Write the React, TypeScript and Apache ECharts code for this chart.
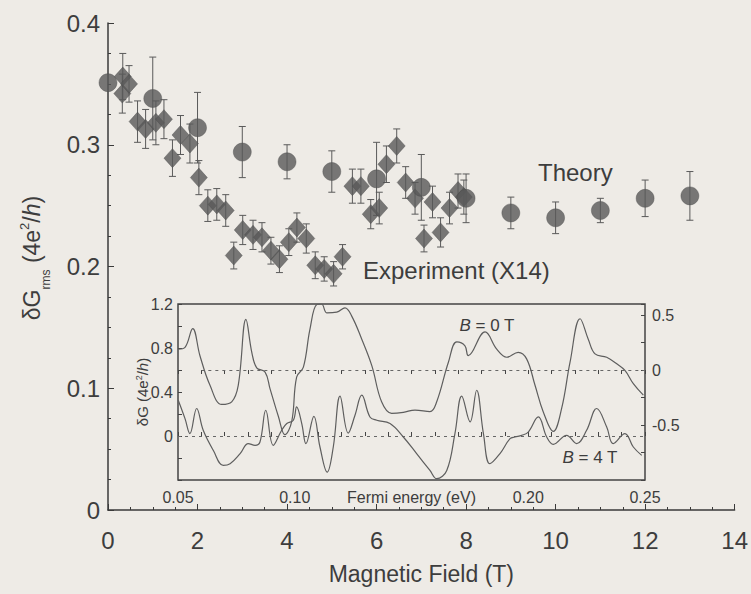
import React, { useEffect, useRef } from 'react';
import * as echarts from 'echarts';

// Main plot: experiment (diamonds)
const expB = [0.32, 0.33, 0.47, 0.66, 0.84, 1.07, 1.25, 1.44, 1.62, 1.83, 2.03, 2.23, 2.43, 2.63, 2.81, 3.01, 3.24, 3.44, 3.64, 3.83, 4.04, 4.22, 4.43, 4.63, 4.83, 5.04, 5.24, 5.46, 5.65, 5.87, 6.06, 6.22, 6.45, 6.65, 6.86, 7.06, 7.25, 7.43, 7.63, 7.82, 7.95];
const expG = [0.342, 0.356, 0.350, 0.319, 0.313, 0.318, 0.321, 0.289, 0.308, 0.301, 0.273, 0.250, 0.251, 0.246, 0.209, 0.230, 0.226, 0.224, 0.213, 0.206, 0.220, 0.232, 0.223, 0.201, 0.198, 0.194, 0.208, 0.266, 0.266, 0.243, 0.248, 0.284, 0.299, 0.269, 0.256, 0.223, 0.253, 0.228, 0.248, 0.262, 0.257];
const expErr = [0.016, 0.019, 0.015, 0.017, 0.016, 0.018, 0.016, 0.015, 0.016, 0.016, 0.014, 0.013, 0.013, 0.013, 0.011, 0.012, 0.012, 0.012, 0.011, 0.011, 0.011, 0.012, 0.012, 0.011, 0.010, 0.010, 0.010, 0.014, 0.014, 0.012, 0.013, 0.015, 0.014, 0.013, 0.013, 0.011, 0.013, 0.012, 0.013, 0.014, 0.014];

// Main plot: theory (circles)
const thB = [0, 1, 2, 3, 4, 5, 6, 7, 8, 9, 10, 11, 12, 13];
const thG = [0.351, 0.338, 0.314, 0.294, 0.286, 0.278, 0.272, 0.265, 0.256, 0.244, 0.240, 0.246, 0.256, 0.258];
const thErr = [0, 0.034, 0.029, 0.021, 0.014, 0.017, 0.030, 0.027, 0.020, 0.013, 0.013, 0.010, 0.015, 0.020];

const xTicksMain = [0, 2, 4, 6, 8, 10, 12, 14];

// Inset: B = 0 T (right axis)
const e0 = [0.0501, 0.0530, 0.0563, 0.0594, 0.0637, 0.0687, 0.0730, 0.0758, 0.0791, 0.0816, 0.0837, 0.0873, 0.0894, 0.0930, 0.0958, 0.0987, 0.1008, 0.1037, 0.1065, 0.1094, 0.1115, 0.1137, 0.1180, 0.1215, 0.1244, 0.1287, 0.1330, 0.1372, 0.1415, 0.1465, 0.1515, 0.1579, 0.1608, 0.1658, 0.1694, 0.1729, 0.1743, 0.1815, 0.1865, 0.1908, 0.1957, 0.1993, 0.2029, 0.2064, 0.2107, 0.2143, 0.2179, 0.2222, 0.2257, 0.2286, 0.2336, 0.2379, 0.2414, 0.2450, 0.2493];
const g0 = [0.190, 0.206, 0.376, 0.130, -0.139, -0.313, -0.289, -0.139, 0.460, 0.161, 0.020, -0.019, -0.169, -0.423, -0.588, -0.468, -0.064, 0.026, 0.370, 0.595, 0.600, 0.520, 0.526, 0.565, 0.490, 0.280, 0.040, -0.289, -0.394, -0.385, -0.364, -0.379, -0.289, 0.071, 0.256, 0.220, 0.130, 0.346, 0.190, 0.116, 0.161, 0.101, -0.139, -0.379, -0.558, -0.349, 0.071, 0.466, 0.280, 0.146, 0.116, 0.056, -0.004, -0.124, -0.229];

// Inset: B = 4 T (left axis)
const e4 = [0.0501, 0.0530, 0.0551, 0.0580, 0.0608, 0.0651, 0.0694, 0.0723, 0.0766, 0.0801, 0.0830, 0.0851, 0.0876, 0.0908, 0.0944, 0.0966, 0.0994, 0.1008, 0.1030, 0.1048, 0.1082, 0.1108, 0.1139, 0.1165, 0.1194, 0.1229, 0.1258, 0.1287, 0.1322, 0.1351, 0.1408, 0.1465, 0.1522, 0.1579, 0.1608, 0.1651, 0.1686, 0.1715, 0.1751, 0.1779, 0.1808, 0.1836, 0.1879, 0.1922, 0.1943, 0.1972, 0.2000, 0.2043, 0.2079, 0.2107, 0.2164, 0.2207, 0.2250, 0.2293, 0.2336, 0.2364, 0.2414, 0.2450, 0.2486];
const g4 = [0.325, 0.158, 0.022, 0.250, 0.052, -0.130, -0.267, -0.252, -0.160, -0.069, -0.085, -0.055, 0.234, -0.085, 0.052, 0.113, 0.143, 0.264, 0.113, -0.069, 0.179, -0.100, -0.328, -0.100, 0.362, 0.027, 0.189, 0.371, 0.173, 0.143, 0.113, -0.009, -0.160, -0.313, -0.388, -0.313, 0.022, 0.362, 0.128, 0.416, 0.022, -0.252, -0.160, -0.024, -0.009, 0.006, 0.036, 0.173, -0.009, -0.076, 0.006, -0.069, 0.052, 0.250, 0.082, -0.069, 0.022, -0.100, -0.176];

const FONT = '"Liberation Sans", Arial, Helvetica, sans-serif';
const TXT = '#3d3d3d';
const AX = '#3a3a3a';
const MARK = '#595959';

const errRender = (params: any, api: any) => {
  const x = api.value(0);
  const y = api.value(1);
  const e = api.value(2);
  if (!e) return { type: 'group', children: [] };
  const p1 = api.coord([x, y + e]);
  const p2 = api.coord([x, y - e]);
  const w = 3.5;
  const style = { stroke: '#5a5a5a', lineWidth: 1 };
  return {
    type: 'group',
    children: [
      { type: 'line', shape: { x1: p1[0], y1: p1[1], x2: p2[0], y2: p2[1] }, style },
      { type: 'line', shape: { x1: p1[0] - w, y1: p1[1], x2: p1[0] + w, y2: p1[1] }, style },
      { type: 'line', shape: { x1: p2[0] - w, y1: p2[1], x2: p2[0] + w, y2: p2[1] }, style },
    ],
  };
};

export default function App() {
  const ref = useRef<HTMLDivElement>(null);
  useEffect(() => {
    const chart = echarts.init(ref.current as HTMLDivElement, null, { renderer: 'svg' });
    const insetX = (v: number) => {
      const r = Math.round(v * 100);
      if (r % 5 !== 0 || r === 15) return '';
      return v.toFixed(2);
    };
    const option: any = {
      animation: false,
      backgroundColor: '#eeebe6',
      textStyle: { fontFamily: FONT },
      grid: [
        { left: 108, right: 14, top: 23, bottom: 84 },
        { left: 178, right: 106, top: 304, bottom: 114, show: true, borderColor: '#444', borderWidth: 1.5, backgroundColor: 'transparent' },
      ],
      xAxis: [
        {
          type: 'value', gridIndex: 0, min: 0, max: 14, interval: 2,
          axisLine: { lineStyle: { color: AX, width: 1.5 } },
          axisTick: { inside: true, length: 6, lineStyle: { color: AX } },
          minorTick: { show: true, splitNumber: 4, length: 3, lineStyle: { color: AX } },
          splitLine: { show: false },
          axisLabel: { fontSize: 24, color: TXT, margin: 18, fontFamily: FONT,
            formatter: (v: number) => (xTicksMain.indexOf(Math.round(v)) >= 0 ? String(Math.round(v)) : '') },
          name: 'Magnetic Field (T)', nameLocation: 'middle', nameGap: 52, nameMoveOverlap: false,
          nameTextStyle: { fontSize: 23, color: TXT, fontFamily: FONT },
        },
        {
          type: 'value', gridIndex: 1, min: 0.05, max: 0.25, interval: 0.01,
          axisLine: { show: false },
          axisTick: { inside: true, length: 4, lineStyle: { color: '#444' } },
          splitLine: { show: false },
          axisLabel: { fontSize: 16, color: TXT, margin: 9, fontFamily: FONT, formatter: insetX },
          name: 'Fermi energy (eV)', nameLocation: 'middle', nameGap: 9, nameMoveOverlap: false,
          nameTextStyle: { fontSize: 16, color: TXT, fontFamily: FONT, verticalAlign: 'top' },
        },
        {
          type: 'value', gridIndex: 1, position: 'top', min: 0.05, max: 0.25, interval: 0.01,
          axisLine: { show: false },
          axisTick: { inside: true, length: 4, lineStyle: { color: '#444' } },
          splitLine: { show: false },
          axisLabel: { show: false },
        },
      ],
      yAxis: [
        {
          type: 'value', gridIndex: 0, min: 0, max: 0.4, interval: 0.1,
          axisLine: { show: true, lineStyle: { color: AX, width: 1.5 } },
          axisTick: { show: true, inside: true, length: 6, lineStyle: { color: AX } },
          minorTick: { show: true, splitNumber: 4, length: 3, lineStyle: { color: AX } },
          splitLine: { show: false },
          axisLabel: { fontSize: 24, color: TXT, margin: 8, fontFamily: FONT,
            formatter: (v: number) => (Math.abs(v) < 1e-9 ? '0' : v.toFixed(1)) },
        },
        {
          type: 'value', gridIndex: 1, min: -0.4, max: 1.2, interval: 0.2,
          axisLine: { show: false },
          axisTick: { show: true, inside: true, length: 4, lineStyle: { color: '#444' } },
          splitLine: { show: false },
          axisLabel: { fontSize: 16, color: TXT, margin: 5, fontFamily: FONT,
            formatter: (v: number) => {
              const r = Math.round(v * 10);
              if (r < 0 || r % 4 !== 0) return '';
              return r === 0 ? '0' : (r / 10).toFixed(1);
            } },
        },
        {
          type: 'value', gridIndex: 1, position: 'right', min: -1, max: 0.6, interval: 0.25,
          axisLine: { show: false },
          axisTick: { show: true, inside: true, length: 4, lineStyle: { color: '#444' } },
          splitLine: { show: false },
          axisLabel: { fontSize: 16, color: TXT, margin: 7, fontFamily: FONT,
            formatter: (v: number) => {
              const r = Math.round(v * 100);
              if (r === 50) return '0.5';
              if (r === 0) return '0';
              if (r === -50) return '-0.5';
              return '';
            } },
        },
      ],
      series: [
        {
          type: 'custom', xAxisIndex: 0, yAxisIndex: 0, renderItem: errRender, clip: false, z: 2,
          encode: { x: 0, y: 1 },
          data: expB.map((b, i) => [b, expG[i], expErr[i]]),
        },
        {
          type: 'custom', xAxisIndex: 0, yAxisIndex: 0, renderItem: errRender, clip: false, z: 2,
          encode: { x: 0, y: 1 },
          data: thB.map((b, i) => [b, thG[i], thErr[i]]),
        },
        {
          name: 'Experiment (X14)', type: 'scatter', xAxisIndex: 0, yAxisIndex: 0, z: 3,
          symbol: 'diamond', symbolSize: [17, 19],
          itemStyle: { color: MARK, borderColor: '#4a4a4a', borderWidth: 0.5 },
          data: expB.map((b, i) => [b, expG[i]]),
        },
        {
          name: 'Theory', type: 'scatter', xAxisIndex: 0, yAxisIndex: 0, z: 4,
          symbol: 'circle', symbolSize: 18,
          itemStyle: { color: MARK, borderColor: '#4a4a4a', borderWidth: 0.5 },
          data: thB.map((b, i) => [b, thG[i]]),
        },
        {
          name: 'B = 4 T', type: 'line', xAxisIndex: 1, yAxisIndex: 1, smooth: 0.4, showSymbol: false, z: 5,
          lineStyle: { color: '#5e5e5e', width: 1.2 },
          data: e4.map((e, i) => [e, g4[i]]),
          markLine: {
            silent: true, symbol: 'none', label: { show: false },
            lineStyle: { type: [3, 4], color: '#666', width: 1 },
            data: [{ yAxis: 0 }],
          },
        },
        {
          name: 'B = 0 T', type: 'line', xAxisIndex: 1, yAxisIndex: 2, smooth: 0.4, showSymbol: false, z: 5,
          lineStyle: { color: '#5e5e5e', width: 1.2 },
          data: e0.map((e, i) => [e, g0[i]]),
          markLine: {
            silent: true, symbol: 'none', label: { show: false },
            lineStyle: { type: [3, 4], color: '#666', width: 1 },
            data: [[{ coord: [0.06, 0] }, { coord: [0.25, 0] }]],
          },
        },
      ],
      graphic: [
        {
          type: 'text', x: 32, y: 258, rotation: Math.PI / 2,
          style: {
            text: '{a|δG}{s|rms}{a| (4e}{p|2}{a|/}{i|h}{a|)}',
            align: 'center', verticalAlign: 'middle', fill: TXT,
            rich: {
              a: { fontSize: 23, fontFamily: FONT, fill: TXT, lineHeight: 40, verticalAlign: 'middle' },
              s: { fontSize: 12, fontFamily: FONT, fill: TXT, lineHeight: 40, verticalAlign: 'bottom' },
              p: { fontSize: 13, fontFamily: FONT, fill: TXT, lineHeight: 40, verticalAlign: 'top', padding: [6, 0, 0, 0] },
              i: { fontSize: 23, fontFamily: FONT, fontStyle: 'italic', fill: TXT, lineHeight: 40, verticalAlign: 'middle' },
            },
          },
        },
        {
          type: 'text', x: 142, y: 392, rotation: Math.PI / 2,
          style: {
            text: '{a|δG (4e}{p|2}{a|/}{i|h}{a|)}',
            align: 'center', verticalAlign: 'middle', fill: TXT,
            rich: {
              a: { fontSize: 15, fontFamily: FONT, fill: TXT, lineHeight: 24, verticalAlign: 'middle' },
              p: { fontSize: 9, fontFamily: FONT, fill: TXT, lineHeight: 24, verticalAlign: 'top', padding: [4, 0, 0, 0] },
              i: { fontSize: 15, fontFamily: FONT, fontStyle: 'italic', fill: TXT, lineHeight: 24, verticalAlign: 'middle' },
            },
          },
        },
        {
          type: 'text', x: 538, y: 172,
          style: { text: 'Theory', fontSize: 24, fontFamily: FONT, fill: TXT, verticalAlign: 'middle' },
        },
        {
          type: 'text', x: 363, y: 270,
          style: { text: 'Experiment (X14)', fontSize: 24, fontFamily: FONT, fill: TXT, verticalAlign: 'middle' },
        },
        {
          type: 'text', x: 487, y: 325,
          style: {
            text: '{i|B}{a| = 0 T}', align: 'center', verticalAlign: 'middle',
            rich: {
              a: { fontSize: 17, fontFamily: FONT, fill: TXT },
              i: { fontSize: 17, fontFamily: FONT, fontStyle: 'italic', fill: TXT },
            },
          },
        },
        {
          type: 'text', x: 590, y: 457,
          style: {
            text: '{i|B}{a| = 4 T}', align: 'center', verticalAlign: 'middle',
            rich: {
              a: { fontSize: 17, fontFamily: FONT, fill: TXT },
              i: { fontSize: 17, fontFamily: FONT, fontStyle: 'italic', fill: TXT },
            },
          },
        },
      ],
    };
    chart.setOption(option);
    return () => chart.dispose();
  }, []);
  return <div ref={ref} style={{ position: 'absolute', left: 0, top: 0, width: 751, height: 594 }} />;
}
